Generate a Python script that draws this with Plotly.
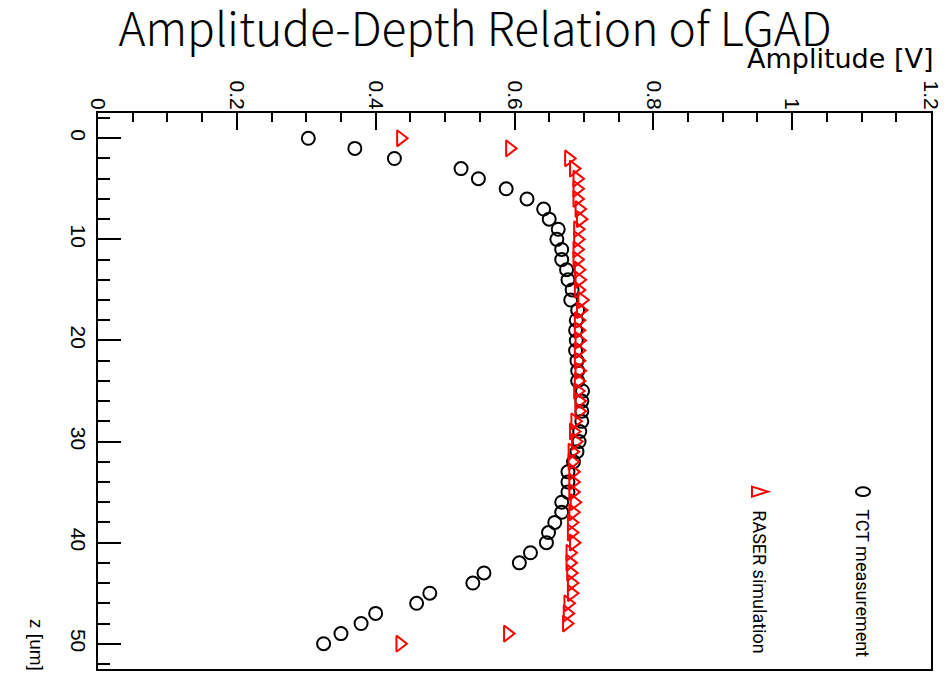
import plotly.graph_objects as go

z_um = list(range(0, 51))
tct_amp = [0.303, 0.370, 0.427, 0.523, 0.548, 0.588, 0.618, 0.642, 0.650, 0.663,
           0.661, 0.668, 0.668, 0.675, 0.677, 0.683, 0.681, 0.691, 0.689, 0.688,
           0.689, 0.688, 0.690, 0.691, 0.691, 0.698, 0.697, 0.697, 0.697, 0.694,
           0.693, 0.690, 0.685, 0.677, 0.677, 0.677, 0.668, 0.668, 0.658, 0.649,
           0.646, 0.623, 0.607, 0.556, 0.540, 0.478, 0.459, 0.400, 0.379, 0.350,
           0.325]
raser_amp = [0.436, 0.593, 0.678, 0.685, 0.690, 0.690, 0.690, 0.693, 0.695, 0.691,
             0.691, 0.690, 0.690, 0.692, 0.693, 0.692, 0.697, 0.695, 0.692, 0.692,
             0.693, 0.692, 0.692, 0.693, 0.692, 0.691, 0.693, 0.693, 0.687, 0.685,
             0.688, 0.683, 0.683, 0.684, 0.684, 0.684, 0.686, 0.684, 0.682, 0.682,
             0.685, 0.680, 0.680, 0.681, 0.682, 0.682, 0.677, 0.676, 0.675, 0.590,
             0.435]
x_ticks = [0, 0.2, 0.4, 0.6, 0.8, 1.0, 1.2]
x_ticktext = ["0", "0.2", "0.4", "0.6", "0.8", "1", "1.2"]
y_ticks = [0, 10, 20, 30, 40, 50]

TICKFONT = "Liberation Sans, Arial, sans-serif"
LEGFONT = "Roboto, Liberation Sans, sans-serif"
TITLEFONT = "Noto Sans CJK SC, Lato, sans-serif"

fig = go.Figure()
fig.add_trace(go.Scatter(x=tct_amp, y=z_um, mode="markers", name="TCT measurement",
                         marker=dict(symbol="circle-open", size=13, color="black",
                                     line=dict(width=2, color="black"))))
fig.add_trace(go.Scatter(x=raser_amp, y=z_um, mode="markers", name="RASER simulation",
                         marker=dict(symbol="triangle-right-open", size=14, color="red",
                                     line=dict(width=2, color="red"))))

fig.update_layout(
    width=951, height=674,
    margin=dict(l=98, r=20, t=113, b=3),
    paper_bgcolor="white", plot_bgcolor="white",
    showlegend=False,
    title=dict(text="Amplitude-Depth Relation of LGAD", x=0.4995, xanchor="center",
               y=0.955, yanchor="middle",
               font=dict(family=TITLEFONT, size=46, color="black", weight=300)),
    font=dict(family=TICKFONT, color="black"),
)
fig.update_xaxes(
    range=[0, 1.2], side="top", tickvals=x_ticks, ticktext=x_ticktext,
    ticks="inside", ticklen=17, tickwidth=2, tickcolor="black",
    minor=dict(dtick=0.05, ticks="inside", ticklen=9, tickwidth=2, tickcolor="black"),
    showline=True, linewidth=2, linecolor="black", mirror=True,
    showgrid=False, zeroline=False, tickangle=90,
    tickfont=dict(family=TICKFONT, size=21, color="black"), ticklabelstandoff=-6,
)
fig.update_yaxes(
    range=[52.5, -2.5], autorange=False, tickvals=y_ticks,
    ticks="inside", ticklen=23, tickwidth=2, tickcolor="black",
    minor=dict(dtick=2, tick0=0, ticks="inside", ticklen=12, tickwidth=2, tickcolor="black"),
    showline=True, linewidth=2, linecolor="black", mirror=True,
    showgrid=False, zeroline=False, tickangle=90,
    tickfont=dict(family=TICKFONT, size=21, color="black"), ticklabelstandoff=0,
)


def px(xp):
    return (xp - 98) / 833


def py(yp):
    return 1 - (yp - 113) / 558


# axis titles
fig.add_annotation(text="Amplitude [V]", xref="paper", yref="paper",
                   x=px(935), y=py(58), xanchor="right", yanchor="middle", showarrow=False,
                   font=dict(family="DejaVu Sans, sans-serif", size=27, color="black"))
fig.add_annotation(text="z [um]", xref="paper", yref="paper",
                   x=px(37), y=py(647), xanchor="center", yanchor="middle",
                   textangle=90, showarrow=False,
                   font=dict(family=TICKFONT, size=19, color="black"))

# legend (rotated)
fig.add_shape(type="circle", xref="paper", yref="paper",
              x0=px(856), x1=px(870), y0=py(497.5), y1=py(488.5),
              line=dict(color="black", width=2))
fig.add_shape(type="path", xref="paper", yref="paper",
              path=f"M {px(752)},{py(488)} L {px(768)},{py(493)} L {px(752)},{py(498)} Z",
              line=dict(color="red", width=2))
fig.add_annotation(text="TCT measurement", xref="paper", yref="paper",
                   x=px(863), y=py(585), xanchor="center", yanchor="middle",
                   textangle=90, showarrow=False,
                   font=dict(family=LEGFONT, size=18, color="black"))
fig.add_annotation(text="RASER simulation", xref="paper", yref="paper",
                   x=px(760), y=py(583), xanchor="center", yanchor="middle",
                   textangle=90, showarrow=False,
                   font=dict(family=LEGFONT, size=18, color="black"))

fig.write_html("out.html")
